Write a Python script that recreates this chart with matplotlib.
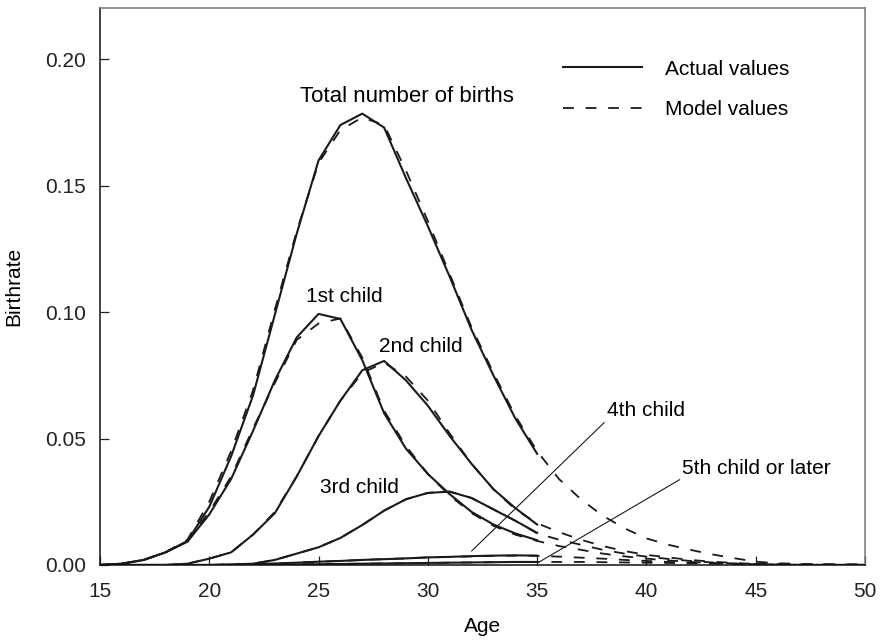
import matplotlib
matplotlib.use('Agg')
import matplotlib.pyplot as plt
from matplotlib.lines import Line2D
import numpy as np

plt.rcParams['font.family'] = ['Liberation Sans', 'DejaVu Sans']

# ages
ages_actual = np.arange(15, 36)
ages_model = np.arange(15, 51)

# actual values (15..35)
total_act = [0.0, 0.0005, 0.002, 0.005, 0.0095, 0.023, 0.043, 0.067, 0.099, 0.131, 0.160,
             0.174, 0.1785, 0.173, 0.153, 0.134, 0.114, 0.093, 0.075, 0.058, 0.044]
first_act = [0.0, 0.0005, 0.002, 0.005, 0.0092, 0.020, 0.034, 0.053, 0.073, 0.090, 0.0993,
             0.0973, 0.081, 0.060, 0.046, 0.036, 0.028, 0.021, 0.016, 0.0125, 0.0098]
second_act = [0, 0, 0, 0, 0.0005, 0.0025, 0.005, 0.012, 0.0205, 0.035, 0.051,
              0.065, 0.077, 0.0807, 0.073, 0.063, 0.051, 0.040, 0.030, 0.0225, 0.016]
third_act = [0, 0, 0, 0, 0, 0, 0.0002, 0.0005, 0.002, 0.0045, 0.007,
             0.0107, 0.0158, 0.0215, 0.026, 0.0285, 0.029, 0.0265, 0.022, 0.0175, 0.0127]
fourth_act = [0, 0, 0, 0, 0, 0, 0.0001, 0.0003, 0.0006, 0.0009, 0.0013,
              0.0016, 0.002, 0.0023, 0.0026, 0.003, 0.0032, 0.0035, 0.0037, 0.0038, 0.0037]
fifth_act = [0, 0, 0, 0, 0, 0, 0, 0, 0.0001, 0.0002, 0.0003,
             0.0004, 0.0005, 0.0006, 0.0007, 0.0008, 0.0009, 0.001, 0.0011, 0.0012, 0.0012]

# model values (15..50)
total_mod = [0.0, 0.0005, 0.002, 0.005, 0.010, 0.025, 0.045, 0.069, 0.101, 0.132, 0.159,
             0.172, 0.177, 0.174, 0.156, 0.136, 0.115, 0.094, 0.076, 0.059, 0.045,
             0.034, 0.026, 0.0195, 0.0145, 0.0105, 0.008, 0.006, 0.0042, 0.0027, 0.0013,
             0.0007, 0.0004, 0.0003, 0.0002, 0.0002]
first_mod = [0.0, 0.0005, 0.002, 0.005, 0.0095, 0.021, 0.035, 0.054, 0.072, 0.089, 0.0955,
             0.0975, 0.082, 0.061, 0.047, 0.036, 0.0275, 0.0205, 0.0155, 0.012, 0.0095,
             0.0075, 0.006, 0.0045, 0.0034, 0.0025, 0.0018, 0.0012, 0.0008, 0.0005, 0.0003,
             0.0002, 0.0001, 0.0001, 0.0001, 0.0001]
second_mod = [0, 0, 0, 0, 0.0005, 0.0025, 0.005, 0.012, 0.021, 0.035, 0.051,
              0.065, 0.076, 0.080, 0.0745, 0.065, 0.052, 0.040, 0.030, 0.022, 0.0165,
              0.013, 0.010, 0.0075, 0.0055, 0.004, 0.003, 0.002, 0.0013, 0.0008, 0.0004,
              0.0002, 0.0001, 0.0001, 0.0001, 0.0001]
third_mod = [0, 0, 0, 0, 0, 0, 0.0002, 0.0005, 0.002, 0.0045, 0.007,
             0.0107, 0.0158, 0.0215, 0.026, 0.0285, 0.029, 0.0265, 0.022, 0.0175, 0.0125,
             0.010, 0.008, 0.006, 0.0045, 0.0033, 0.0024, 0.0016, 0.001, 0.0006, 0.0003,
             0.0002, 0.0001, 0.0001, 0.0001, 0.0001]
fourth_mod = [0, 0, 0, 0, 0, 0, 0.0001, 0.0003, 0.0006, 0.0009, 0.0013,
              0.0016, 0.002, 0.0023, 0.0026, 0.003, 0.0032, 0.0034, 0.0036, 0.0037, 0.0036,
              0.0033, 0.0029, 0.0025, 0.002, 0.0016, 0.0012, 0.0009, 0.0006, 0.0004, 0.0003,
              0.0002, 0.0001, 0.0001, 0.0001, 0.0001]
fifth_mod = [0, 0, 0, 0, 0, 0, 0, 0, 0.0001, 0.0002, 0.0003,
             0.0004, 0.0005, 0.0006, 0.0007, 0.0008, 0.0009, 0.001, 0.0011, 0.0012, 0.0012,
             0.0012, 0.0012, 0.0011, 0.001, 0.0009, 0.0008, 0.0007, 0.0006, 0.0005, 0.0004,
             0.0003, 0.0002, 0.0002, 0.0001, 0.0001]

actual = [total_act, first_act, second_act, third_act, fourth_act, fifth_act]
model = [total_mod, first_mod, second_mod, third_mod, fourth_mod, fifth_mod]

xticks = [15, 20, 25, 30, 35, 40, 45, 50]
yticks = [0.00, 0.05, 0.10, 0.15, 0.20]

lc = '#1a1a1a'
fs = 15

fig = plt.figure(figsize=(8.81, 6.41), dpi=100)
ax = fig.add_axes([0.1135, 0.1186, 0.8683, 0.869])

for m in model:
    ax.plot(ages_model, m, color=lc, lw=1.3, linestyle=(0, (6, 6.5)))
for a in actual:
    ax.plot(ages_actual, a, color=lc, lw=1.5)

ax.set_xlim(15, 50)
ax.set_ylim(0, 0.2203)
ax.set_xticks(xticks)
ax.set_yticks(yticks)
ax.set_yticklabels(['%.2f' % v for v in yticks])
ax.tick_params(axis='both', direction='in', length=6.5, width=0.9, labelsize=fs, colors='#222222')
ax.tick_params(axis='x', pad=12)
ax.tick_params(axis='y', pad=10)
for s in ['left', 'bottom']:
    ax.spines[s].set_color('#111111')
    ax.spines[s].set_linewidth(1.1)
for s in ['top', 'right']:
    ax.spines[s].set_color('#777777')
    ax.spines[s].set_linewidth(1.1)

ax.set_xlabel('Age', fontsize=fs, labelpad=12)
ax.set_ylabel('Birthrate', fontsize=fs, labelpad=16)

# curve labels
ax.text(29.05, 0.1851, 'Total number of births', fontsize=16, ha='center', va='center')
ax.text(26.2, 0.106, '1st child', fontsize=fs, ha='center', va='center')
ax.text(29.7, 0.0866, '2nd child', fontsize=fs, ha='center', va='center')
ax.text(26.85, 0.0305, '3rd child', fontsize=fs, ha='center', va='center')
ax.annotate('4th child', xy=(32.0, 0.0055), xytext=(38.2, 0.0574), fontsize=fs,
            ha='left', va='bottom',
            arrowprops=dict(arrowstyle='-', color=lc, lw=0.8, relpos=(0, 0), shrinkA=0, shrinkB=0))
ax.annotate('5th child or later', xy=(35.1, 0.0012), xytext=(41.65, 0.0344), fontsize=fs,
            ha='left', va='bottom',
            arrowprops=dict(arrowstyle='-', color=lc, lw=0.8, relpos=(0, 0), shrinkA=0, shrinkB=0))

handles = [Line2D([], [], color=lc, lw=1.5),
           Line2D([], [], color=lc, lw=1.3, linestyle=(0, (6, 6.5)))]
ax.legend(handles, ['Actual values', 'Model values'], loc='upper left',
          bbox_to_anchor=(0.605, 0.907), frameon=False, fontsize=fs,
          handlelength=3.8, handletextpad=1.1, labelspacing=1.04,
          borderpad=0, borderaxespad=0)

fig.savefig('out.png', dpi=100)
